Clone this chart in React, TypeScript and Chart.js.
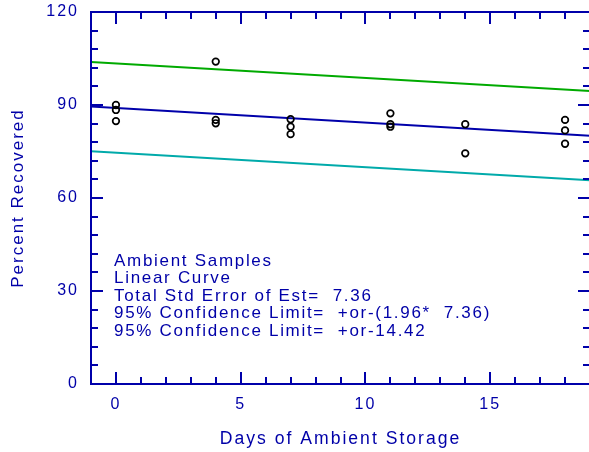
import React, { useEffect, useRef } from 'react';
import { Chart, registerables } from 'chart.js';

Chart.register(...registerables);

// ---- data ----
const sampleDays = [0, 0, 0, 4, 4, 4, 7, 7, 7, 11, 11, 11, 14, 14, 18, 18, 18];
const sampleRecovery = [90.0, 88.4, 84.8, 104.0, 85.2, 84.1, 85.4, 83.0, 80.6, 87.3, 83.8, 83.0, 83.8, 74.4, 85.2, 81.8, 77.5];
const fitDays = [-1, 19];
const fitCenter = [89.5, 80.1];
const fitUpper = [103.9, 94.5];
const fitLower = [75.1, 65.7];
const xRange = [-1, 19];
const yRange = [0, 120];
const xTickValues = [0, 5, 10, 15];
const yTickValues = [0, 30, 60, 90, 120];
const xMajorStep = 5;
const yMajorStep = 30;
const xMinorStep = 1;
const yMinorStep = 6;
const xTitle = 'Days of Ambient Storage';
const yTitle = 'Percent Recovered';
const notes = [
  'Ambient Samples',
  'Linear Curve',
  'Total Std Error of Est=  7.36',
  '95% Confidence Limit=  +or-(1.96*  7.36)',
  '95% Confidence Limit=  +or-14.42',
];

const AXIS = '#0000AA';
const TEXT = '#0000A8';
const FONT = "'Liberation Sans', Arial, sans-serif";

const framePlugin = {
  id: 'frame',
  beforeDraw(chart: any) {
    chart.ctx.letterSpacing = '2px';
  },
  afterDraw(chart: any) {
    const { ctx, chartArea: a, scales } = chart;
    const x = scales.x;
    const y = scales.y;
    ctx.save();
    ctx.strokeStyle = AXIS;
    ctx.lineWidth = 2;
    ctx.beginPath();
    ctx.rect(a.left, a.top, a.right - a.left, a.bottom - a.top);
    ctx.stroke();
    ctx.beginPath();
    for (let v = xRange[0] + xMinorStep; v < xRange[1]; v += xMinorStep) {
      const px = Math.round(x.getPixelForValue(v));
      const len = v % xMajorStep === 0 ? 12 : 7;
      ctx.moveTo(px, a.bottom);
      ctx.lineTo(px, a.bottom - len);
      ctx.moveTo(px, a.top);
      ctx.lineTo(px, a.top + len);
    }
    for (let v = yRange[0] + yMinorStep; v < yRange[1]; v += yMinorStep) {
      const py = Math.round(y.getPixelForValue(v));
      const len = v % yMajorStep === 0 ? 12 : 7;
      ctx.moveTo(a.left, py);
      ctx.lineTo(a.left + len, py);
      ctx.moveTo(a.right, py);
      ctx.lineTo(a.right - len, py);
    }
    ctx.stroke();

    // annotation block
    ctx.fillStyle = TEXT;
    ctx.font = `17px ${FONT}`;
    ctx.letterSpacing = '1.7px';
    ctx.textAlign = 'left';
    ctx.textBaseline = 'alphabetic';
    const startY = a.top + 254;
    notes.forEach((t, i) => {
      ctx.fillText(t, a.left + 23, startY + i * 17.4);
    });
    ctx.restore();
  },
};

export default function App() {
  const ref = useRef<HTMLCanvasElement | null>(null);

  useEffect(() => {
    if (!ref.current) return;
    const pts = sampleDays.map((d, i) => ({ x: d, y: sampleRecovery[i] }));
    const line = (vals: number[]) => fitDays.map((d, i) => ({ x: d, y: vals[i] }));
    const chart = new Chart(ref.current, {
      type: 'scatter',
      data: {
        datasets: [
          {
            label: 'Samples',
            data: pts,
            pointRadius: 3.3,
            pointBorderWidth: 1.7,
            borderColor: '#000000',
            backgroundColor: 'rgba(0,0,0,0)',
            pointStyle: 'circle',
          },
          {
            label: 'Fit',
            data: line(fitCenter),
            showLine: true,
            pointRadius: 0,
            borderColor: '#0000AA',
            borderWidth: 2,
          },
          {
            label: 'Upper',
            data: line(fitUpper),
            showLine: true,
            pointRadius: 0,
            borderColor: '#00AA00',
            borderWidth: 2,
          },
          {
            label: 'Lower',
            data: line(fitLower),
            showLine: true,
            pointRadius: 0,
            borderColor: '#00AAAA',
            borderWidth: 2,
          },
        ],
      },
      options: {
        animation: false,
        responsive: false,
        devicePixelRatio: 1,
        events: [],
        layout: { padding: { left: 0, top: 12, right: 10, bottom: 0 } },
        plugins: {
          legend: { display: false },
          tooltip: { enabled: false },
        },
        scales: {
          x: {
            type: 'linear',
            min: xRange[0],
            max: xRange[1],
            grid: { display: false, drawTicks: false },
            border: { display: false },
            afterBuildTicks(scale: any) {
              scale.ticks = xTickValues.map((v) => ({ value: v }));
            },
            ticks: {
              color: TEXT,
              font: { family: FONT, size: 16 },
              padding: 11,
              maxRotation: 0,
              autoSkip: false,
            },
            title: {
              display: true,
              text: xTitle,
              color: TEXT,
              font: { family: FONT, size: 17.6 },
              padding: { top: 0, bottom: 2 },
            },
            afterFit(scale: any) {
              scale.height = 68;
              scale.paddingLeft = 0;
              scale.paddingRight = 0;
            },
          },
          y: {
            type: 'linear',
            min: yRange[0],
            max: yRange[1],
            grid: { display: false, drawTicks: false },
            border: { display: false },
            afterBuildTicks(scale: any) {
              scale.ticks = yTickValues.map((v) => ({ value: v }));
            },
            ticks: {
              color: TEXT,
              font: { family: FONT, size: 16 },
              padding: 12,
              autoSkip: false,
            },
            title: {
              display: true,
              text: yTitle,
              color: TEXT,
              font: { family: FONT, size: 17 },
              padding: { top: 8, bottom: 0 },
            },
            afterFit(scale: any) {
              scale.width = 91;
              scale.paddingTop = 0;
              scale.paddingBottom = 0;
            },
          },
        },
      },
      plugins: [framePlugin],
    } as any);
    return () => chart.destroy();
  }, []);

  return (
    <div style={{ position: 'fixed', left: 0, top: 0, width: 600, height: 452, background: '#ffffff' }}>
      <canvas ref={ref} width={600} height={452} style={{ display: 'block' }} />
    </div>
  );
}
